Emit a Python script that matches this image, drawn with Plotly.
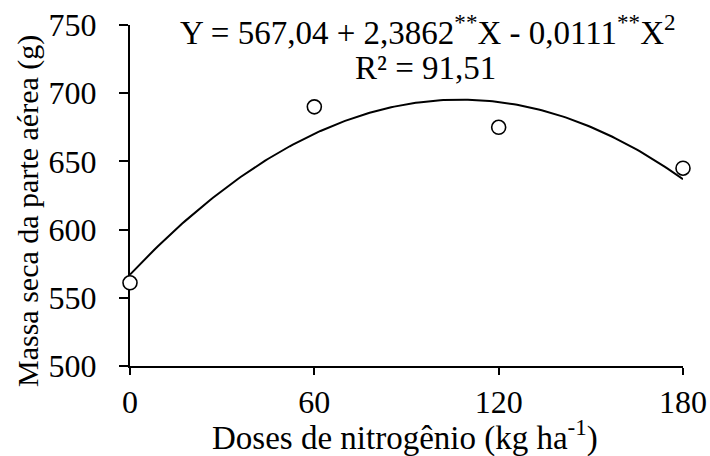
import numpy as np
import plotly.graph_objects as go

doses = [0, 60, 120, 180]
massa = [561, 690, 675, 645]
coef = [567.04, 2.3862, -0.0111]  # regression coefficients shown in the chart
x_ticks = [0, 60, 120, 180]
y_ticks = [500, 550, 600, 650, 700, 750]

xs = np.linspace(0, 180, 181)
ys = coef[0] + coef[1] * xs + coef[2] * xs ** 2

FAM = "Liberation Serif"
F = dict(family=FAM, size=32, color="black")
FE = dict(family=FAM, size=33, color="black")
FX = dict(family=FAM, size=33, color="black")
FY = dict(family=FAM, size=30, color="black")

fig = go.Figure()
fig.add_trace(go.Scatter(x=xs, y=ys, mode="lines",
                         line=dict(color="black", width=2), showlegend=False,
                         cliponaxis=False))
fig.add_trace(go.Scatter(x=doses, y=massa, mode="markers",
                         marker=dict(symbol="circle", size=14, color="white",
                                     line=dict(color="black", width=1.6)),
                         showlegend=False, cliponaxis=False))

ML, MR, MT, MB = 130, 27, 25, 90
fig.update_layout(
    width=710, height=456,
    margin=dict(l=ML, r=MR, t=MT, b=MB),
    plot_bgcolor="white", paper_bgcolor="white",
    font=F,
    xaxis=dict(range=[0, 180], tickvals=x_ticks, showgrid=False, zeroline=False,
               showline=True, linecolor="black", linewidth=2, automargin=False,
               ticks="outside", ticklen=7, tickwidth=2, tickcolor="black",
               layer="below traces", tickfont=F),
    yaxis=dict(range=[500, 750], tickvals=y_ticks, showgrid=False, zeroline=False,
               showline=True, linecolor="black", linewidth=2, automargin=False,
               ticks="outside", ticklen=9, tickwidth=2, tickcolor="black",
               ticklabelstandoff=16,
               layer="below traces", tickfont=F),
)

pw = 710 - ML - MR
ph = 456 - MT - MB
def px(x, y):
    return (x - ML) / pw, 1 - (y - MT) / ph

texts = [
    ("Y = 567,04 + 2,3862<sup>**</sup>X - 0,0111<sup>**</sup>X<sup>2</sup>", (428, 30), 0, FE),
    ("R² = 91,51", (425, 68), 0, FE),
    ("Doses de nitrogênio (kg ha<sup>-1</sup>)", (405, 435), 0, FX),
    ("Massa seca da parte aérea (g)", (28, 211), -90, FY),
]
for text, (x, y), ang, fnt in texts:
    ax, ay = px(x, y)
    fig.add_annotation(text=text, x=ax, y=ay, xref="paper", yref="paper",
                       showarrow=False, xanchor="center", yanchor="middle",
                       textangle=ang, font=fnt, borderpad=0)

fig.write_html("out.html", config={"displayModeBar": False},
               post_script="document.body.style.margin='0';")
